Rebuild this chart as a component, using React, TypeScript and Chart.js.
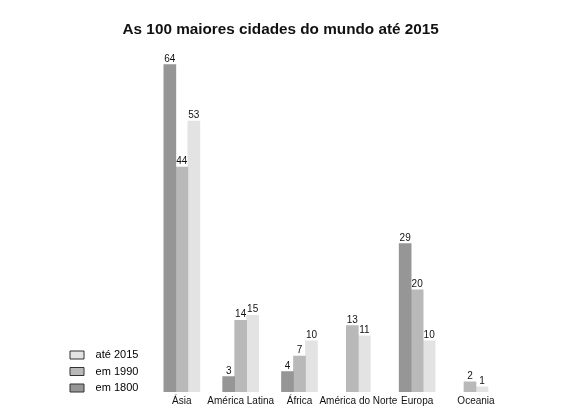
import { useEffect, useRef } from "react";
import Chart from "chart.js/auto";

const regions = ["Ásia", "América Latina", "África", "América do Norte", "Europa", "Oceania"];
const in1800 = [64, 3, 4, null, 29, null];
const in1990 = [44, 14, 7, 13, 20, 2];
const until2015 = [53, 15, 10, 11, 10, 1];

const FONT = "Arial, 'Liberation Sans', sans-serif";

const valueLabels = {
  id: "valueLabels",
  afterLayout(chart: any) {
    // the legend sits a little below the bottom of the plot area
    const lg = chart.legend;
    if (lg) {
      lg.top = chart.chartArea.top + 7;
      lg.bottom = chart.chartArea.bottom + 7;
    }
  },
  afterDatasetsDraw(chart: any) {
    const ctx = chart.ctx;
    ctx.save();
    ctx.font = "10px " + FONT;
    ctx.fillStyle = "#111";
    ctx.textAlign = "center";
    ctx.textBaseline = "alphabetic";
    chart.data.datasets.forEach((ds: any, i: number) => {
      const meta = chart.getDatasetMeta(i);
      meta.data.forEach((bar: any, j: number) => {
        const v = ds.data[j];
        if (v == null) return;
        ctx.fillText(String(v), bar.x, bar.y - 3);
      });
    });
    ctx.restore();
  },
};

const App = () => {
  const chartRef = useRef<HTMLCanvasElement>(null);

  useEffect(() => {
    if (!chartRef.current) return;

    const chart = new Chart(chartRef.current, {
      type: "bar",
      data: {
        labels: regions,
        datasets: [
          { label: "em 1800", data: in1800, backgroundColor: "#969696" },
          { label: "em 1990", data: in1990, backgroundColor: "#b9b9b9" },
          { label: "até 2015", data: until2015, backgroundColor: "#e3e3e3" },
        ],
      },
      options: {
        animation: false,
        responsive: true,
        maintainAspectRatio: false,
        layout: { padding: { left: 64.5, right: 75.6, top: 0, bottom: 5 } },
        datasets: {
          bar: { barThickness: 12, skipNull: true },
        },
        plugins: {
          title: {
            display: true,
            text: "As 100 maiores cidades do mundo até 2015  ",
            color: "#111",
            font: { family: FONT, size: 15.3, weight: "bold" },
            padding: { top: 21, bottom: 10 },
          },
          legend: {
            position: "left",
            align: "end",
            reverse: true,
            labels: {
              color: "#111",
              font: { family: FONT, size: 11 },
              boxWidth: 14,
              boxHeight: 8,
              padding: 5.5,
              generateLabels: (c: any) =>
                c.data.datasets.map((ds: any, i: number) => ({
                  text: "  " + ds.label,
                  fillStyle: ds.backgroundColor,
                  strokeStyle: "#333",
                  lineWidth: 1,
                  hidden: false,
                  datasetIndex: i,
                })),
            },
          },
          tooltip: { enabled: false },
        },
        scales: {
          x: {
            grid: { display: false, drawTicks: false },
            border: { display: false },
            ticks: { color: "#111", font: { family: FONT, size: 10 }, padding: 3, autoSkip: false, maxRotation: 0 },
          },
          y: {
            min: 0,
            max: 67,
            grid: { display: false },
            border: { display: false },
            ticks: { display: false },
            afterFit: (s: any) => {
              s.width = 4;
            },
          },
        },
      },
      plugins: [valueLabels],
    });

    return () => {
      chart.destroy();
    };
  }, []);

  return (
    <div style={{ position: "absolute", left: 0, top: 0, width: "581px", height: "415px", background: "#fff" }}>
      <canvas ref={chartRef} />
    </div>
  );
};

export default App;
